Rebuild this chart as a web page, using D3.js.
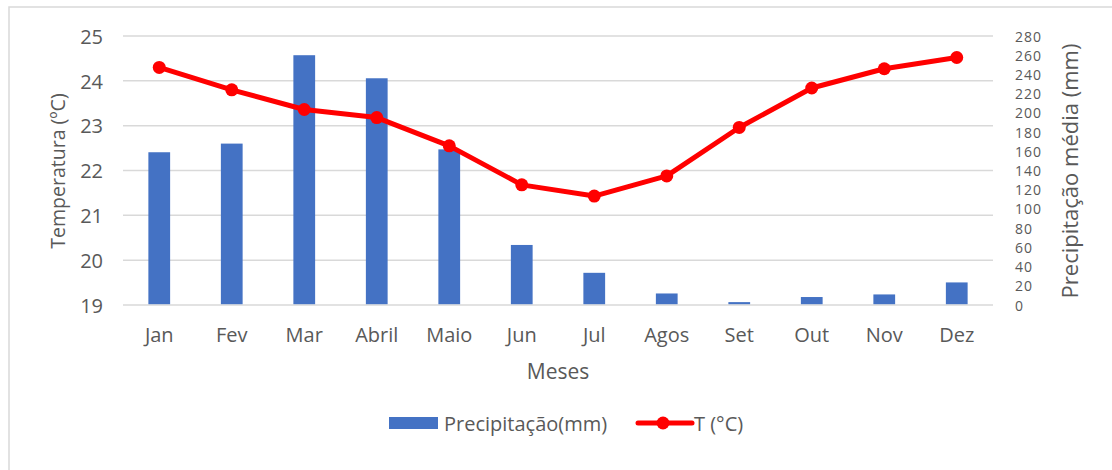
<!DOCTYPE html>
<html><head><meta charset="utf-8">
<script src="https://cdn.jsdelivr.net/npm/d3@7"></script>
<style>
html,body{margin:0;padding:0;background:#fff;}
svg text{font-family:"Open Sans",sans-serif;fill:#595959;}
</style></head>
<body>
<svg id="chart" width="1112" height="470"></svg>
<script>
const months = ["Jan","Fev","Mar","Abril","Maio","Jun","Jul","Agos","Set","Out","Nov","Dez"];
const precip = [159,168,260,236,162,62.5,33.5,12,3,8.3,11,23.5];
const temp = [24.3,23.8,23.36,23.18,22.55,21.68,21.43,21.88,22.96,23.84,24.27,24.52];
const tempTicks = [19,20,21,22,23,24,25];
const precipTicks = d3.range(0,281,20);

const svg = d3.select("#chart");
const W = 1112, H = 470;
const m = {left:123, right:993, top:36, bottom:305};

svg.append("rect").attr("x",9).attr("y",7).attr("width",W).attr("height",H)
  .attr("fill","#fff").attr("stroke","#d9d9d9").attr("stroke-width",1.5);

const x = d3.scaleBand().domain(months).range([m.left,m.right]).paddingInner(0.7).paddingOuter(0.35);
const yL = d3.scaleLinear().domain([19,25]).range([m.bottom,m.top]);
const yR = d3.scaleLinear().domain([0,280]).range([m.bottom,m.top]);

// gridlines
svg.append("g").selectAll("line").data(tempTicks).join("line")
  .attr("x1",m.left).attr("x2",m.right)
  .attr("y1",d=>yL(d)).attr("y2",d=>yL(d))
  .attr("stroke","#d9d9d9").attr("stroke-width",1.5);

// left axis
const gl = svg.append("g").attr("transform",`translate(${m.left},0)`)
  .call(d3.axisLeft(yL).tickValues(tempTicks).tickFormat(d3.format("d")).tickSize(0).tickPadding(20));
gl.select(".domain").remove();
gl.selectAll("text").attr("font-size",20).attr("fill","#595959").attr("font-family","Open Sans")
  .attr("dy","0.36em");

// right axis
const gr = svg.append("g").attr("transform",`translate(${m.right},0)`)
  .call(d3.axisRight(yR).tickValues(precipTicks).tickSize(0).tickPadding(22));
gr.select(".domain").remove();
gr.selectAll("text").attr("font-size",14).attr("fill","#595959")
  .attr("font-family","Liberation Sans").attr("letter-spacing","1").attr("dy","0.36em");

// x axis
const gx = svg.append("g").attr("transform",`translate(0,${m.bottom})`)
  .call(d3.axisBottom(x).tickSize(0));
gx.select(".domain").remove();
gx.selectAll("text").attr("font-size",20).attr("fill","#595959").attr("font-family","Open Sans")
  .attr("dy",null).attr("y",37);

// bars
svg.append("g").selectAll("rect").data(precip).join("rect")
  .attr("x",(d,i)=>x(months[i])).attr("width",x.bandwidth())
  .attr("y",d=>yR(d)).attr("height",d=>yR(0)-yR(d)-0.8)
  .attr("fill","#4472c4");

// line
const line = d3.line().x((d,i)=>x(months[i])+x.bandwidth()/2).y(d=>yL(d));
svg.append("path").datum(temp).attr("d",line).attr("fill","none")
  .attr("stroke","#ff0000").attr("stroke-width",5).attr("stroke-linejoin","round");
svg.append("g").selectAll("circle").data(temp).join("circle")
  .attr("cx",(d,i)=>x(months[i])+x.bandwidth()/2).attr("cy",d=>yL(d)).attr("r",6.5)
  .attr("fill","#ff0000");

// axis titles
svg.append("text").attr("transform","translate(65,171) rotate(-90)")
  .attr("text-anchor","middle").attr("font-size",19.5).text("Temperatura (ºC)");
svg.append("text").attr("transform","translate(1078,171) rotate(-90)")
  .attr("text-anchor","middle").attr("font-size",22).text("Precipitação média (mm)");
svg.append("text").attr("x",558).attr("y",379).attr("text-anchor","middle")
  .attr("font-size",21).text("Meses");

// legend
const lg = svg.append("g");
lg.append("rect").attr("x",389).attr("y",417).attr("width",49).attr("height",12).attr("fill","#4472c4");
lg.append("text").attr("x",444).attr("y",431).attr("font-size",20).text("Precipitação(mm)");
lg.append("line").attr("x1",638).attr("x2",692).attr("y1",423).attr("y2",423)
  .attr("stroke","#ff0000").attr("stroke-width",5).attr("stroke-linecap","round");
lg.append("circle").attr("cx",663).attr("cy",423).attr("r",6.5).attr("fill","#ff0000");
lg.append("text").attr("x",694).attr("y",431).attr("font-size",20).text("T (°C)");
</script>
</body></html>
